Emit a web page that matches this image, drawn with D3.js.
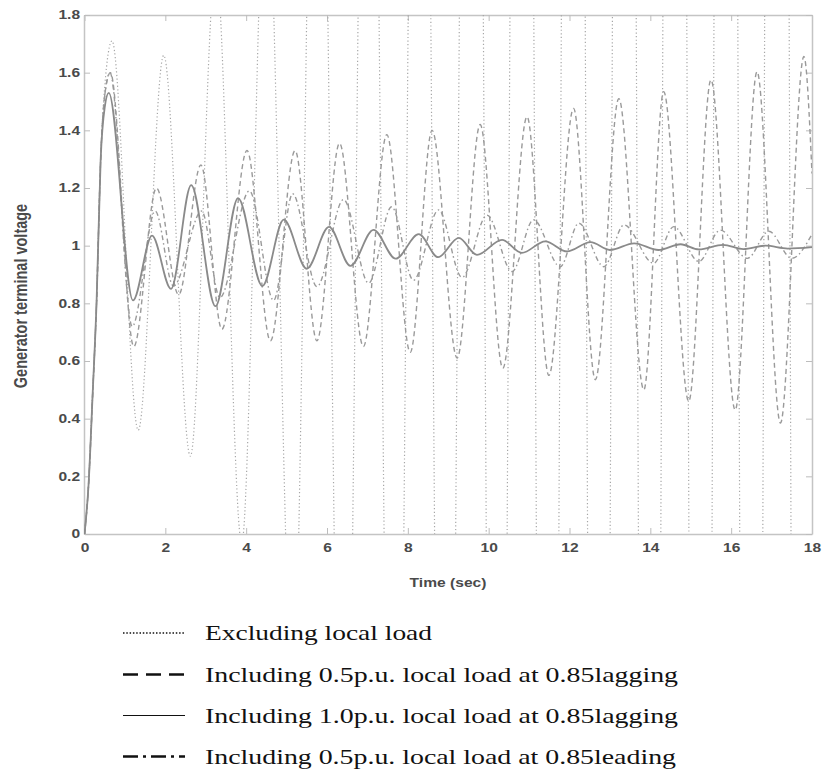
<!DOCTYPE html>
<html>
<head>
<meta charset="utf-8">
<script src="https://cdn.jsdelivr.net/npm/d3@7"></script>
<style>
body { margin: 0; background: #fff; }
.tick text { font-family: "Liberation Sans", Arial, sans-serif; font-weight: bold; font-size: 12px; fill: #4a4a4a; }
.tick line { stroke: #bdbdbd; }
.domain { stroke: #c4c4c4; stroke-width: 1.5; }
</style>
</head>
<body>
<svg id="chart" width="832" height="769"></svg>
<script>
let svg = d3.select('#chart');

// axis ticks
let xTicks = [0, 2, 4, 6, 8, 10, 12, 14, 16, 18];
let yTicks = [0, 0.2, 0.4, 0.6, 0.8, 1, 1.2, 1.4, 1.6, 1.8];
let yTickLabels = ['0', '0.2', '0.4', '0.6', '0.8', '1', '1.2', '1.4', '1.6', '1.8'];

// excluding local load (dotted, unstable, leaves the axes)
let tExcl = [0, 0.1, 0.2, 0.3, 0.4, 0.5, 0.68, 1.33, 1.96, 2.62, 3.25, 3.89, 4.5, 5.16, 5.77, 6.42, 7.03, 7.67, 8.3, 8.92,
             9.6, 10.2, 10.83, 11.46, 12.1, 12.73, 13.36, 13.99, 14.6, 15.25, 15.87, 16.5, 17.13, 17.78, 18];
let vExcl = [0, 0.17, 0.48, 0.81, 1.3, 1.55, 1.71, 0.36, 1.66, 0.27, 1.97, -0.03, 2.35, -0.55, 3.5, -1.6, 4.0, -2.2, 5, -3,
             6, -4, 7, -5, 7.5, -5.5, 8, -6, 8.5, -6.5, 9, -7, 9.5, -7.5, -3];

// 0.5 p.u. at 0.85 lagging (dashed, growing)
let tLag05 = [0, 0.1, 0.2, 0.3, 0.4, 0.5, 0.64, 1.22, 1.78, 2.33, 2.88, 3.4, 4.02, 4.6, 5.21, 5.75, 6.31, 6.9, 7.48, 8.06,
              8.6, 9.22, 9.79, 10.35, 10.95, 11.49, 12.1, 12.64, 13.22, 13.84, 14.33, 14.95, 15.5, 16.1, 16.64, 17.22, 17.8, 18];
let vLag05 = [0, 0.17, 0.48, 0.81, 1.3, 1.52, 1.6, 0.65, 1.2, 0.83, 1.28, 0.71, 1.33, 0.67, 1.33, 0.67, 1.355, 0.65, 1.385, 0.63,
              1.40, 0.61, 1.42, 0.575, 1.447, 0.55, 1.476, 0.535, 1.51, 0.5, 1.534, 0.46, 1.575, 0.43, 1.603, 0.385, 1.656, 1.25];

// 1.0 p.u. at 0.85 lagging (solid, damped)
let tLag10 = [0, 0.1, 0.2, 0.3, 0.4, 0.5, 0.6, 1.2, 1.67, 2.14, 2.64, 3.24, 3.8, 4.4, 4.93, 5.5, 6.05, 6.58, 7.15, 7.7,
              8.27, 8.75, 9.26, 9.71, 10.33, 10.82, 11.4, 11.94, 12.52, 13.0, 13.6, 14.2, 14.75, 15.2, 15.8, 16.3, 16.85, 17.4, 18];
let vLag10 = [0, 0.17, 0.48, 0.81, 1.3, 1.48, 1.53, 0.81, 1.035, 0.85, 1.21, 0.79, 1.165, 0.86, 1.09, 0.92, 1.065, 0.93, 1.055, 0.955,
              1.04, 0.96, 1.027, 0.968, 1.02, 0.975, 1.015, 0.98, 1.012, 0.985, 1.008, 0.985, 1.005, 0.987, 1.003, 0.988, 1.0, 0.99, 0.995];

// 0.5 p.u. at 0.85 leading (dash-dot, slowly damped)
let tLead05 = [0, 0.1, 0.2, 0.3, 0.4, 0.5, 0.63, 1.18, 1.75, 2.2, 2.9, 3.35, 4.08, 4.68, 5.15, 5.75, 6.41, 7.03, 7.6, 8.14,
               8.76, 9.34, 9.96, 10.58, 11.11, 11.77, 12.23, 12.85, 13.35, 14.08, 14.58, 15.2, 15.73, 16.4, 16.93, 17.5, 18];
let vLead05 = [0, 0.17, 0.48, 0.81, 1.3, 1.52, 1.6, 0.72, 1.12, 0.86, 1.12, 0.82, 1.19, 0.81, 1.18, 0.858, 1.16, 0.87, 1.135, 0.88,
               1.124, 0.89, 1.106, 0.91, 1.09, 0.927, 1.078, 0.927, 1.072, 0.939, 1.066, 0.945, 1.054, 0.956, 1.05, 0.956, 1.04];

let legendLabels = ['Excluding local load',
                    'Including 0.5p.u. local load at 0.85lagging',
                    'Including 1.0p.u. local load at 0.85lagging',
                    'Including 0.5p.u. local load at 0.85leading'];

let plotLeft = 84, plotRight = 812, plotTop = 15, plotBottom = 534;
let stretch = 1.3;   // the source picture is widened horizontally

let x = d3.scaleLinear().domain([0, 18]).range([plotLeft + 0.5, plotRight]);
let y = d3.scaleLinear().domain([0, 1.8]).range([plotBottom, plotTop]);

// axes, MATLAB style: ticks inward on all four sides
let xAxis = svg.append('g').attr('transform', `translate(0,${plotBottom})`)
    .call(d3.axisBottom(x).tickValues(xTicks).tickSize(-6).tickSizeOuter(0).tickPadding(9).tickFormat(d3.format('d')));
svg.append('g').attr('transform', `translate(0,${plotTop})`)
    .call(d3.axisTop(x).tickValues(xTicks).tickSize(-6).tickSizeOuter(0).tickFormat(''));
let yAxis = svg.append('g').attr('transform', `translate(${plotLeft},0)`)
    .call(d3.axisLeft(y).tickValues(yTicks).tickSize(-6).tickSizeOuter(0).tickPadding(3)
        .tickFormat((d, i) => yTickLabels[i]));
svg.append('g').attr('transform', `translate(${plotRight},0)`)
    .call(d3.axisRight(y).tickValues(yTicks).tickSize(-6).tickSizeOuter(0).tickFormat(''));

xAxis.selectAll('.tick text').attr('transform', `scale(${stretch},1)`);
yAxis.selectAll('.tick text').attr('transform', `scale(${stretch},1)`);

// axis titles
svg.append('text')
    .attr('transform', `translate(448,587) scale(${stretch},1)`)
    .attr('text-anchor', 'middle')
    .style('font-family', '"Liberation Sans", Arial, sans-serif')
    .style('font-weight', 'bold').style('font-size', '12px').style('fill', '#4a4a4a')
    .text('Time (sec)');
svg.append('text')
    .attr('transform', `translate(27,296) scale(${stretch},1) rotate(-90)`)
    .attr('text-anchor', 'middle')
    .style('font-family', '"Liberation Sans", Arial, sans-serif')
    .style('font-weight', 'bold').style('font-size', '14.5px').style('fill', '#4a4a4a')
    .text('Generator terminal voltage');

// plot lines
svg.append('clipPath').attr('id', 'plot-clip')
    .append('rect').attr('x', plotLeft).attr('y', plotTop)
    .attr('width', plotRight - plotLeft).attr('height', plotBottom - plotTop);

let line = d3.line()
    .x(d => x(d[0]))
    .y(d => y(d[1]))
    .curve(d3.curveMonotoneX);

let series = [
    {t: tExcl, v: vExcl, color: '#a6a6a6', width: 1.2, dash: '1.2,2.4'},
    {t: tLag05, v: vLag05, color: '#9a9a9a', width: 1.4, dash: '5,3.5'},
    {t: tLead05, v: vLead05, color: '#9a9a9a', width: 1.4, dash: '5,3,1.5,3'},
    {t: tLag10, v: vLag10, color: '#8a8a8a', width: 1.8, dash: null}
];

let plot = svg.append('g').attr('clip-path', 'url(#plot-clip)');
plot.selectAll('.series')
    .data(series)
    .join('path')
    .classed('series', true)
    .attr('d', d => line(d3.zip(d.t, d.v)))
    .attr('fill', 'none')
    .attr('stroke', d => d.color)
    .attr('stroke-width', d => d.width)
    .attr('stroke-dasharray', d => d.dash);

// legend below the chart
let legendStyles = [
    {dash: '1.5,1.8', width: 1.6},
    {dash: '15,8', width: 2.6},
    {dash: null, width: 1},
    {dash: '15,5,3,5', width: 2.6}
];
let legendWidths = [227, 473, 473, 471];
let legendBase = [640, 681.5, 722.5, 763.5];

let legend = svg.append('g');
legend.selectAll('line')
    .data(legendStyles)
    .join('line')
    .attr('x1', 123).attr('x2', 185)
    .attr('y1', (d, i) => legendBase[i] - 7).attr('y2', (d, i) => legendBase[i] - 7)
    .attr('stroke', '#111')
    .attr('stroke-width', d => d.width)
    .attr('stroke-dasharray', d => d.dash);
legend.selectAll('text')
    .data(legendLabels)
    .join('text')
    .attr('x', 205)
    .attr('y', (d, i) => legendBase[i])
    .attr('textLength', (d, i) => legendWidths[i])
    .attr('lengthAdjust', 'spacingAndGlyphs')
    .style('font-family', '"Liberation Serif", "Times New Roman", serif')
    .style('font-size', '21px')
    .style('fill', '#111')
    .text(d => d);
</script>
</body>
</html>
